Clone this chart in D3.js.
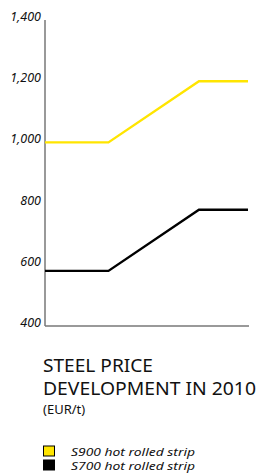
<!DOCTYPE html>
<html>
<head>
<meta charset="utf-8">
<script src="https://cdn.jsdelivr.net/npm/d3@7"></script>
<style>
  body { margin: 0; background: #fff; }
  svg { display: block; }
</style>
</head>
<body>
<svg id="chart" width="259" height="475"></svg>
<script>
// data (x = month position in 2010)
var months = [0, 3.75, 9.1, 12];
var s900 = [1000, 1000, 1200, 1200];
var s700 = [580, 580, 780, 780];
var yTicks = [400, 600, 800, 1000, 1200, 1400];
var seriesNames = ["S900 hot rolled strip", "S700 hot rolled strip"];
var seriesColors = ["#ffe500", "#000000"];
var titleLines = ["STEEL PRICE", "DEVELOPMENT IN 2010"];
var unitLabel = "(EUR/t)";

var font = "'Noto Sans', 'Open Sans', sans-serif";
var svg = d3.select("#chart");
var x = d3.scaleLinear().domain([0, 12]).range([45, 248]);
var y = d3.scaleLinear().domain([400, 1400]).range([326, 20]);

// axes
svg.append("line")
  .attr("x1", x(0)).attr("x2", x(0))
  .attr("y1", y(1400)).attr("y2", y(400))
  .attr("stroke", "#555").attr("stroke-width", 1.2);
svg.append("line")
  .attr("x1", x(0)).attr("x2", 249)
  .attr("y1", y(400)).attr("y2", y(400))
  .attr("stroke", "#777").attr("stroke-width", 1.5);

svg.selectAll("text.tick")
  .data(yTicks)
  .enter().append("text")
  .attr("class", "tick")
  .attr("x", 41)
  .attr("y", d => y(d) + 1)
  .attr("text-anchor", "end")
  .style("font-family", font)
  .style("font-style", "italic")
  .style("font-size", "12.5px")
  .style("fill", "#111")
  .text(d => d3.format(",")(d));

// lines
var line = d3.line()
  .x((d, i) => x(months[i]))
  .y(d => y(d));

[s900, s700].forEach(function(vals, i) {
  svg.append("path")
    .datum(vals)
    .attr("d", line)
    .attr("fill", "none")
    .attr("stroke", seriesColors[i])
    .attr("stroke-width", 2.4);
});

// title
var titleWidths = [110, 213];
svg.selectAll("text.title")
  .data(titleLines)
  .enter().append("text")
  .attr("class", "title")
  .attr("x", 43)
  .attr("y", (d, i) => 372 + i * 23)
  .attr("textLength", (d, i) => titleWidths[i])
  .attr("lengthAdjust", "spacingAndGlyphs")
  .style("font-family", font)
  .style("font-size", "17.5px")
  .style("fill", "#111")
  .text(d => d);

svg.append("text")
  .attr("x", 43)
  .attr("y", 414)
  .style("font-family", font)
  .style("font-size", "13px")
  .style("fill", "#111")
  .text(unitLabel);

// legend
var legend = svg.selectAll("g.legend")
  .data(seriesNames)
  .enter().append("g")
  .attr("class", "legend")
  .attr("transform", (d, i) => "translate(43," + (445.5 + i * 14) + ")");

legend.append("rect")
  .attr("x", 0.5).attr("y", 0.5)
  .attr("width", 11).attr("height", 10)
  .attr("fill", (d, i) => seriesColors[i])
  .attr("stroke", "#000")
  .attr("stroke-width", 1);

legend.append("text")
  .attr("x", 28)
  .attr("y", 10.5)
  .attr("textLength", 124)
  .attr("lengthAdjust", "spacingAndGlyphs")
  .style("font-family", font)
  .style("font-style", "italic")
  .style("font-size", "10.5px")
  .style("fill", "#111")
  .text(d => d);
</script>
</body>
</html>
